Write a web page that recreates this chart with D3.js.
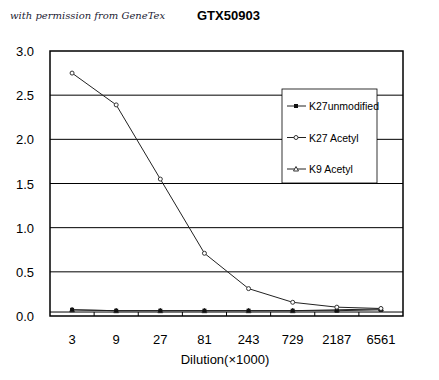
<!DOCTYPE html>
<html><head><meta charset="utf-8">
<script src="https://cdn.jsdelivr.net/npm/d3@7/dist/d3.min.js"></script>
<style>body{margin:0;background:#fff;}</style>
</head><body>
<svg id="c" width="439" height="380"></svg>
<script>
const categories = ["3","9","27","81","243","729","2187","6561"];
const k27unmod = [0.07,0.06,0.06,0.06,0.06,0.06,0.06,0.07];
const k27acetyl = [2.75,2.39,1.55,0.71,0.31,0.155,0.10,0.085];
const k9acetyl = [0.07,0.06,0.06,0.06,0.06,0.06,0.07,0.08];
const yTicks = [0,0.5,1.0,1.5,2.0,2.5,3.0];
const seriesNames = ["K27unmodified","K27 Acetyl","K9 Acetyl"];

const svg = d3.select("#c");
const L=50,R=403,T=51,B=316;
const x = d3.scaleBand().domain(categories).range([L,R]);
const y = d3.scaleLinear().domain([0,3]).range([B,T]);
const font = "'Liberation Sans', Arial, sans-serif";

// title
svg.append("text").attr("x",10).attr("y",19).attr("font-family","'DejaVu Serif', serif")
  .attr("font-style","italic").attr("font-size",10).attr("fill","#223").text("with permission from GeneTex");
svg.append("text").attr("x",197).attr("y",20).attr("font-family",font)
  .attr("font-weight","bold").attr("font-size",13).attr("fill","#000").text("GTX50903");

// gridlines
svg.append("g").selectAll("line").data(yTicks.filter(d=>d>0&&d<3)).join("line")
  .attr("x1",L).attr("x2",R).attr("y1",d=>y(d)).attr("y2",d=>y(d))
  .attr("stroke","#000").attr("stroke-width",1);
// plot border
svg.append("rect").attr("x",L).attr("y",T).attr("width",R-L).attr("height",B-T)
  .attr("fill","none").attr("stroke","#000").attr("stroke-width",1.5);

// y axis labels
svg.append("g").selectAll("text").data(yTicks).join("text")
  .attr("x",34).attr("y",d=>y(d)+5).attr("text-anchor","end")
  .attr("font-family",font).attr("font-size",13).text(d=>d.toFixed(1));

// category axis crossing at small value
const axY = y(0.045);
svg.append("line").attr("x1",L).attr("x2",R).attr("y1",axY).attr("y2",axY).attr("stroke","#000");
svg.append("g").selectAll("line").data(categories.slice(1)).join("line")
  .attr("x1",d=>x(d)).attr("x2",d=>x(d)).attr("y1",axY).attr("y2",B).attr("stroke","#000");

// x labels
svg.append("g").selectAll("text").data(categories).join("text")
  .attr("x",d=>x(d)+x.bandwidth()/2).attr("y",344).attr("text-anchor","middle")
  .attr("font-family",font).attr("font-size",13).text(d=>d);
svg.append("text").attr("x",225).attr("y",364).attr("text-anchor","middle")
  .attr("font-family",font).attr("font-size",13).text("Dilution(\u00d71000)");

const cx = (d,i)=>x(categories[i])+x.bandwidth()/2;
const line = d3.line().x(cx).y(d=>y(d));
function drawSeries(vals, marker){
  svg.append("path").datum(vals).attr("d",line).attr("fill","none").attr("stroke","#222").attr("stroke-width",1);
  const g = svg.append("g");
  vals.forEach((v,i)=>marker(g, cx(v,i), y(v)));
}
const sq=(g,px,py)=>g.append("rect").attr("x",px-2).attr("y",py-2).attr("width",4).attr("height",4).attr("fill","#111");
const circ=(g,px,py)=>g.append("circle").attr("cx",px).attr("cy",py).attr("r",2).attr("fill","#fff").attr("stroke","#333");
const tri=(g,px,py)=>g.append("path").attr("d",`M${px},${py-2.5}L${px+2.5},${py+2}L${px-2.5},${py+2}Z`).attr("fill","#fff").attr("stroke","#333");

drawSeries(k9acetyl, tri);
drawSeries(k27unmod, sq);
drawSeries(k27acetyl, circ);

// legend
const lg = svg.append("g");
lg.append("rect").attr("x",282).attr("y",89).attr("width",95).attr("height",94)
  .attr("fill","#fff").attr("stroke","#000").attr("stroke-width",0.8);
const markers=[sq,circ,tri];
seriesNames.forEach((n,i)=>{
  const ly = 106 + i*31.5;
  lg.append("line").attr("x1",287).attr("x2",306).attr("y1",ly).attr("y2",ly).attr("stroke","#222");
  markers[i](lg,296,ly);
  lg.append("text").attr("x",309).attr("y",ly+4).attr("font-family",font).attr("font-size",10.5).text(n);
});
</script>
</body></html>
